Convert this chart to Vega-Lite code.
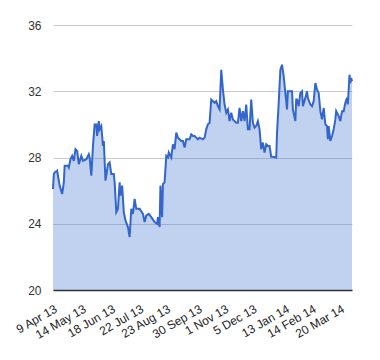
{
  "$schema": "https://vega.github.io/schema/vega-lite/v6.json",
  "width": 299,
  "height": 265,
  "autosize": "none",
  "padding": {"left": 53, "top": 25, "right": 28, "bottom": 70},
  "background": "white",
  "config": {"view": {"stroke": null}, "font": "Liberation Sans"},
  "data": {"values": [
    {"d":"2013/04/09","v":26.1},{"d":"2013/04/10","v":27.0},{"d":"2013/04/11","v":27.1},{"d":"2013/04/14","v":27.2},
    {"d":"2013/04/15","v":26.9},{"d":"2013/04/17","v":26.3},{"d":"2013/04/20","v":25.8},{"d":"2013/04/22","v":26.5},
    {"d":"2013/04/23","v":27.5},{"d":"2013/04/27","v":27.5},{"d":"2013/04/28","v":27.4},{"d":"2013/04/30","v":27.9},
    {"d":"2013/05/02","v":28.1},{"d":"2013/05/04","v":27.8},{"d":"2013/05/06","v":28.5},{"d":"2013/05/08","v":28.4},
    {"d":"2013/05/10","v":27.6},{"d":"2013/05/13","v":28.1},{"d":"2013/05/15","v":27.8},{"d":"2013/05/19","v":27.9},
    {"d":"2013/05/22","v":28.2},{"d":"2013/05/23","v":28.0},{"d":"2013/05/25","v":26.9},{"d":"2013/05/27","v":28.7},
    {"d":"2013/05/29","v":30.0},{"d":"2013/05/31","v":30.0},{"d":"2013/06/01","v":29.3},{"d":"2013/06/03","v":30.2},
    {"d":"2013/06/04","v":29.7},{"d":"2013/06/06","v":29.9},{"d":"2013/06/08","v":28.7},{"d":"2013/06/09","v":29.0},
    {"d":"2013/06/11","v":26.6},{"d":"2013/06/12","v":26.9},{"d":"2013/06/14","v":27.6},{"d":"2013/06/16","v":27.7},
    {"d":"2013/06/18","v":27.0},{"d":"2013/06/21","v":27.0},{"d":"2013/06/22","v":26.5},{"d":"2013/06/24","v":24.7},
    {"d":"2013/06/26","v":24.9},{"d":"2013/06/28","v":26.5},{"d":"2013/06/29","v":25.7},{"d":"2013/07/01","v":26.3},
    {"d":"2013/07/03","v":24.7},{"d":"2013/07/05","v":24.2},{"d":"2013/07/08","v":23.8},{"d":"2013/07/10","v":23.2},
    {"d":"2013/07/12","v":24.9},{"d":"2013/07/14","v":24.6},{"d":"2013/07/16","v":25.5},{"d":"2013/07/18","v":24.9},
    {"d":"2013/07/22","v":24.9},{"d":"2013/07/26","v":24.6},{"d":"2013/07/28","v":24.1},{"d":"2013/07/30","v":24.5},
    {"d":"2013/08/02","v":24.6},{"d":"2013/08/05","v":24.4},{"d":"2013/08/09","v":24.1},{"d":"2013/08/12","v":24.0},
    {"d":"2013/08/13","v":24.4},{"d":"2013/08/15","v":23.8},{"d":"2013/08/16","v":26.3},{"d":"2013/08/18","v":24.4},
    {"d":"2013/08/19","v":26.4},{"d":"2013/08/21","v":26.5},{"d":"2013/08/23","v":28.1},{"d":"2013/08/25","v":28.0},
    {"d":"2013/08/26","v":28.3},{"d":"2013/08/29","v":28.0},{"d":"2013/08/31","v":28.8},{"d":"2013/09/02","v":28.5},
    {"d":"2013/09/04","v":29.5},{"d":"2013/09/06","v":29.2},{"d":"2013/09/08","v":29.1},{"d":"2013/09/10","v":29.0},
    {"d":"2013/09/12","v":29.0},{"d":"2013/09/14","v":28.6},{"d":"2013/09/16","v":29.1},{"d":"2013/09/20","v":29.1},
    {"d":"2013/09/22","v":29.4},{"d":"2013/09/24","v":29.3},{"d":"2013/09/26","v":29.3},{"d":"2013/09/28","v":29.2},
    {"d":"2013/09/30","v":29.1},{"d":"2013/10/02","v":29.2},{"d":"2013/10/06","v":29.1},{"d":"2013/10/08","v":29.2},
    {"d":"2013/10/10","v":29.7},{"d":"2013/10/12","v":30.0},{"d":"2013/10/14","v":30.1},{"d":"2013/10/16","v":31.5},
    {"d":"2013/10/18","v":31.4},{"d":"2013/10/20","v":31.3},{"d":"2013/10/22","v":31.4},{"d":"2013/10/24","v":31.1},
    {"d":"2013/10/26","v":30.9},{"d":"2013/10/28","v":33.3},{"d":"2013/10/30","v":32.1},{"d":"2013/11/01","v":31.2},
    {"d":"2013/11/03","v":30.7},{"d":"2013/11/05","v":30.9},{"d":"2013/11/07","v":30.2},{"d":"2013/11/09","v":30.7},
    {"d":"2013/11/11","v":30.3},{"d":"2013/11/15","v":30.1},{"d":"2013/11/17","v":30.1},{"d":"2013/11/19","v":31.0},
    {"d":"2013/11/21","v":30.2},{"d":"2013/11/23","v":30.8},{"d":"2013/11/25","v":30.2},{"d":"2013/11/27","v":31.2},
    {"d":"2013/11/29","v":29.7},{"d":"2013/12/01","v":29.7},{"d":"2013/12/03","v":31.5},{"d":"2013/12/05","v":30.1},
    {"d":"2013/12/07","v":29.8},{"d":"2013/12/09","v":29.9},{"d":"2013/12/11","v":30.2},{"d":"2013/12/13","v":29.7},
    {"d":"2013/12/15","v":28.5},{"d":"2013/12/17","v":28.9},{"d":"2013/12/19","v":28.3},{"d":"2013/12/21","v":28.8},
    {"d":"2013/12/23","v":28.7},{"d":"2013/12/25","v":28.7},{"d":"2013/12/27","v":28.05},{"d":"2013/12/29","v":28.05},
    {"d":"2014/01/02","v":28.0},{"d":"2014/01/03","v":29.5},{"d":"2014/01/05","v":31.3},{"d":"2014/01/07","v":33.3},
    {"d":"2014/01/09","v":33.6},{"d":"2014/01/11","v":32.9},{"d":"2014/01/13","v":31.9},{"d":"2014/01/15","v":30.9},
    {"d":"2014/01/16","v":32.0},{"d":"2014/01/18","v":32.0},{"d":"2014/01/21","v":32.0},{"d":"2014/01/22","v":30.9},
    {"d":"2014/01/25","v":30.2},{"d":"2014/01/26","v":31.5},{"d":"2014/01/27","v":31.5},{"d":"2014/01/29","v":31.1},
    {"d":"2014/01/31","v":31.9},{"d":"2014/02/02","v":32.0},{"d":"2014/02/03","v":31.1},{"d":"2014/02/06","v":31.6},
    {"d":"2014/02/08","v":32.0},{"d":"2014/02/09","v":31.6},{"d":"2014/02/12","v":31.2},{"d":"2014/02/14","v":31.1},
    {"d":"2014/02/16","v":31.4},{"d":"2014/02/18","v":32.5},{"d":"2014/02/20","v":32.1},{"d":"2014/02/22","v":31.9},
    {"d":"2014/02/24","v":30.8},{"d":"2014/02/26","v":30.3},{"d":"2014/02/28","v":31.0},{"d":"2014/03/02","v":30.0},
    {"d":"2014/03/04","v":29.9},{"d":"2014/03/05","v":29.1},{"d":"2014/03/06","v":29.9},{"d":"2014/03/08","v":29.0},
    {"d":"2014/03/10","v":29.3},{"d":"2014/03/12","v":29.7},{"d":"2014/03/14","v":30.3},{"d":"2014/03/15","v":30.8},
    {"d":"2014/03/18","v":30.5},{"d":"2014/03/20","v":30.2},{"d":"2014/03/22","v":30.8},{"d":"2014/03/24","v":30.8},
    {"d":"2014/03/26","v":31.3},{"d":"2014/03/28","v":31.6},{"d":"2014/03/29","v":31.2},{"d":"2014/03/31","v":33.0},
    {"d":"2014/04/01","v":32.5},{"d":"2014/04/02","v":32.8},{"d":"2014/04/03","v":32.6}
  ]},
  "encoding": {
    "x": {
      "field": "d", "type": "temporal", "title": null,
      "scale": {"nice": false},
      "axis": {
        "values": [
          {"year":2013,"month":4,"date":9},{"year":2013,"month":5,"date":14},{"year":2013,"month":6,"date":18},
          {"year":2013,"month":7,"date":22},{"year":2013,"month":8,"date":23},{"year":2013,"month":9,"date":30},
          {"year":2013,"month":11,"date":1},{"year":2013,"month":12,"date":5},{"year":2014,"month":1,"date":13},
          {"year":2014,"month":2,"date":14},{"year":2014,"month":3,"date":20}
        ],
        "format": "%-d %b %y",
        "labelAngle": -30,
        "labelAlign": "right",
        "labelBaseline": "top",
        "labelPadding": 13,
        "labelFontSize": 12,
        "labelColor": "#222222",
        "labelOverlap": false,
        "labelFlush": false,
        "ticks": false,
        "grid": false,
        "domain": true,
        "domainColor": "#333333",
        "domainWidth": 1.5,
        "zindex": 1
      }
    },
    "y": {
      "field": "v", "type": "quantitative", "title": null,
      "scale": {"domain": [20, 36], "zero": false, "nice": false},
      "axis": {
        "values": [20, 24, 28, 32, 36],
        "labelFontSize": 12,
        "labelColor": "#333333",
        "labelPadding": 12,
        "ticks": false,
        "domain": false,
        "gridColor": "#cccccc",
        "gridWidth": 1
      }
    }
  },
  "layer": [
    {"mark": {"type": "area", "color": "#3366cc", "fillOpacity": 0.3}, "encoding": {"y2": {"datum": 20}}},
    {"mark": {"type": "line", "color": "#3366cc", "strokeWidth": 2}}
  ]
}
